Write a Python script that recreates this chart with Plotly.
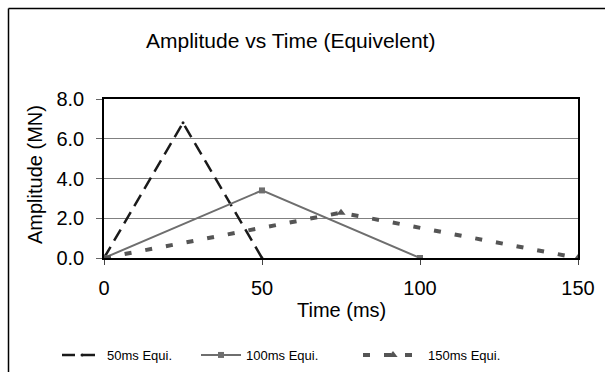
import plotly.graph_objects as go

time_50 = [0, 25, 50]
amp_50 = [0, 6.8, 0]
time_100 = [0, 50, 100]
amp_100 = [0, 3.4, 0]
time_150 = [0, 75, 150]
amp_150 = [0, 2.28, 0]
x_ticks = [0, 50, 100, 150]
y_ticks = [0, 2, 4, 6, 8]

W, H = 605, 372
L, R, T, B = 104, 27, 99, 114
pw, ph = W - L - R, H - T - B

fig = go.Figure()
fig.add_trace(go.Scatter(x=time_50, y=amp_50, name="50ms Equi.", mode="lines+markers",
                         line=dict(color="#1a1a1a", width=2.5, dash="13px,7px"),
                         marker=dict(symbol="circle", size=3, color="#1a1a1a"),
                         legend="legend"))
fig.add_trace(go.Scatter(x=time_100, y=amp_100, name="100ms Equi.", mode="lines+markers",
                         line=dict(color="#6e6e6e", width=2),
                         marker=dict(symbol="square", size=6, color="#6e6e6e"),
                         legend="legend2"))
fig.add_trace(go.Scatter(x=time_150, y=amp_150, name="150ms Equi.", mode="lines+markers",
                         line=dict(color="#555555", width=4, dash="7px,14px"),
                         marker=dict(symbol="triangle-up", size=8, color="#555555"),
                         legend="legend3"))

font = "Liberation Sans, Arial, sans-serif"
ly = 1 - 355 / H


def leg(x, w):
    return dict(xref="container", yref="container", x=x / W, xanchor="left",
                y=ly, yanchor="middle", font=dict(size=13), itemwidth=w,
                bgcolor="rgba(0,0,0,0)", borderwidth=0)


fig.update_layout(
    template="none",
    width=W, height=H,
    margin=dict(l=L, r=R, t=T, b=B, autoexpand=False),
    paper_bgcolor="white", plot_bgcolor="white",
    font=dict(family=font, color="black"),
    showlegend=True,
    legend=leg(57, 40),
    legend2=leg(196, 40),
    legend3=leg(358, 60),
    xaxis=dict(range=[0, 150], tickvals=x_ticks, showgrid=False, zeroline=False,
               showline=True, linecolor="black", linewidth=1.5, mirror=True,
               ticks="outside", ticklen=5, tickcolor="#444", automargin=False,
               tickfont=dict(size=20), ticklabelstandoff=6),
    yaxis=dict(range=[0, 8], tickvals=y_ticks, tickformat=".1f", showgrid=True,
               gridcolor="#808080", gridwidth=1, zeroline=False,
               showline=True, linecolor="black", linewidth=1.5, mirror=True,
               ticks="outside", ticklen=6, tickcolor="#666", automargin=False,
               tickfont=dict(size=20), ticklabelstandoff=8),
    annotations=[
        dict(text="Amplitude vs Time (Equivelent)", xref="paper", yref="paper",
             x=(290 - L) / pw, y=(T + ph - 40) / ph, xanchor="center", yanchor="middle",
             showarrow=False, font=dict(size=21)),
        dict(text="Time (ms)", xref="paper", yref="paper",
             x=0.5, y=-(310 - (T + ph)) / ph, xanchor="center", yanchor="middle",
             showarrow=False, font=dict(size=20)),
        dict(text="Amplitude (MN)", xref="paper", yref="paper", textangle=-90,
             x=(35 - L) / pw, y=(T + ph - 175) / ph, xanchor="center", yanchor="middle",
             showarrow=False, font=dict(size=20)),
    ],
    shapes=[
        dict(type="line", xref="paper", yref="paper",
             x0=(8.5 - L) / pw, x1=(8.5 - L) / pw,
             y0=-(H + 5 - (T + ph)) / ph, y1=(T + ph - 8.5) / ph,
             line=dict(color="black", width=1.5), layer="below"),
        dict(type="line", xref="paper", yref="paper",
             x0=(8.5 - L) / pw, x1=(W + 5 - L) / pw,
             y0=(T + ph - 8.5) / ph, y1=(T + ph - 8.5) / ph,
             line=dict(color="black", width=1.5), layer="below"),
    ],
)

fig.write_html("out.html")
